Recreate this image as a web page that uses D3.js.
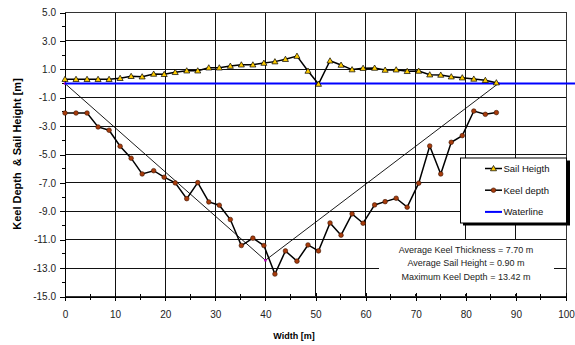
<!DOCTYPE html>
<html>
<head>
<meta charset="utf-8">
<script src="https://cdn.jsdelivr.net/npm/d3@7"></script>
<style>
body { margin: 0; background: #fff; }
svg { display: block; font-family: "Liberation Sans", Arial, sans-serif; }
.axis path, .axis line { stroke: #000; shape-rendering: crispEdges; }
.axis text { fill: #222; font-size: 10px; }
</style>
</head>
<body>
<svg width="575" height="345"></svg>
<script>
// distance across the ridge [m]
var widths = [0, 2.2, 4.4, 6.6, 8.8, 11.0, 13.2, 15.4, 17.7, 19.8,
  22.0, 24.3, 26.5, 28.7, 30.8, 33.0, 35.2, 37.5, 39.7, 41.9,
  44.0, 46.3, 48.5, 50.6, 52.9, 55.1, 57.3, 59.5, 61.8, 63.9,
  66.1, 68.3, 70.6, 72.8, 75.0, 77.1, 79.3, 81.6, 83.9, 86.1];

var sailHeight = [0.30, 0.30, 0.30, 0.30, 0.30, 0.37, 0.51, 0.48, 0.67, 0.65,
  0.79, 0.90, 0.90, 1.11, 1.11, 1.23, 1.32, 1.32, 1.44, 1.54,
  1.71, 1.93, 0.88, -0.04, 1.60, 1.30, 0.98, 1.08, 1.09, 0.95,
  0.97, 0.86, 0.88, 0.62, 0.60, 0.48, 0.41, 0.32, 0.23, 0.06];

var keelDepth = [-2.08, -2.08, -2.08, -3.06, -3.29, -4.42, -5.26, -6.37, -6.14, -6.60,
  -7.00, -8.11, -6.98, -8.34, -8.57, -9.58, -11.41, -10.89, -11.41, -13.42,
  -11.79, -12.51, -11.37, -11.79, -9.82, -10.68, -9.18, -9.84, -8.55, -8.32,
  -8.08, -8.71, -7.02, -4.40, -6.37, -4.14, -3.67, -1.94, -2.17, -2.05];

// waterline and the idealised keel triangle
var waterX = [0, 102], waterY = [0, 0];
var triX = [0, 40, 86.5], triY = [0, -12.45, 0];

var yTicks = [5, 3, 1, -1, -3, -5, -7, -9, -11, -13, -15];
var xTicks = [0, 10, 20, 30, 40, 50, 60, 70, 80, 90, 100];
var legendNames = ["Sail Heigth", "Keel depth", "Waterline"];
var notes = ["Average Keel Thickness = 7.70 m",
  "Average Sail Height = 0.90 m",
  "Maximum Keel Depth  = 13.42 m"];

var svg = d3.select("svg");
var plot = {left: 65, right: 566, top: 12.5, bottom: 296.5};

var x = d3.scaleLinear().domain([0, 100]).range([plot.left, plot.right]);
var y = d3.scaleLinear().domain([-15, 5]).range([plot.bottom, plot.top]);

var pts = function(xs, ys) { return xs.map(function(d, i) { return [d, ys[i]]; }); };
var line = d3.line().x(function(d) { return x(d[0]); }).y(function(d) { return y(d[1]); });

// grid
var grid = svg.append("g").attr("shape-rendering", "crispEdges");
grid.selectAll(".hg").data(yTicks.slice(1, -1)).enter().append("line")
  .attr("x1", plot.left).attr("x2", plot.right)
  .attr("y1", function(d) { return y(d); }).attr("y2", function(d) { return y(d); })
  .attr("stroke", "#111");
grid.selectAll(".vg").data(xTicks.slice(1, -1)).enter().append("line")
  .attr("y1", plot.top).attr("y2", plot.bottom)
  .attr("x1", function(d) { return x(d); }).attr("x2", function(d) { return x(d); })
  .attr("stroke", "#111");
grid.append("rect")
  .attr("x", plot.left).attr("y", plot.top)
  .attr("width", plot.right - plot.left).attr("height", plot.bottom - plot.top)
  .attr("fill", "none").attr("stroke", "#333");

// notes box hides the grid behind it
svg.append("rect").attr("x", 379).attr("y", 240).attr("width", 175).attr("height", 54).attr("fill", "#fff");

// minor ticks
var minorX = d3.range(5, 100, 10);
svg.append("g").attr("shape-rendering", "crispEdges").selectAll("line").data(minorX).enter().append("line")
  .attr("x1", function(d) { return x(d); }).attr("x2", function(d) { return x(d); })
  .attr("y1", plot.bottom - 3).attr("y2", plot.bottom + 3).attr("stroke", "#000");
var minorY = d3.range(4, -15, -2);
svg.append("g").attr("shape-rendering", "crispEdges").selectAll("line").data(minorY).enter().append("line")
  .attr("x1", plot.left - 3).attr("x2", plot.left)
  .attr("y1", function(d) { return y(d); }).attr("y2", function(d) { return y(d); }).attr("stroke", "#000");

// axes
svg.append("g").attr("class", "axis")
  .attr("transform", "translate(0," + plot.bottom + ")")
  .call(d3.axisBottom(x).tickValues(xTicks).tickSizeInner(4).tickSizeOuter(0).tickPadding(10)
    .tickFormat(function(d) { return d; }))
  .call(function(g) { g.selectAll(".tick line").attr("y1", -4); });
svg.append("g").attr("class", "axis")
  .attr("transform", "translate(" + plot.left + ",0)")
  .call(d3.axisLeft(y).tickValues(yTicks).tickSizeInner(5).tickSizeOuter(0).tickPadding(4)
    .tickFormat(function(d) { return d.toFixed(1); }));

// keel triangle
svg.append("path").attr("d", line(pts(triX, triY)))
  .attr("fill", "none").attr("stroke", "#000").attr("stroke-width", 0.9);
svg.selectAll(".tv").data(pts(triX, triY)).enter().append("rect")
  .attr("x", function(d) { return x(d[0]) - 1.2; }).attr("y", function(d) { return y(d[1]) - 1.2; })
  .attr("width", 2.4).attr("height", 2.4).attr("fill", "#b000b0");

// keel depth
svg.append("path").attr("d", line(pts(widths, keelDepth)))
  .attr("fill", "none").attr("stroke", "#000").attr("stroke-width", 1.5);
svg.selectAll(".keel").data(pts(widths, keelDepth)).enter().append("circle")
  .attr("cx", function(d) { return x(d[0]); }).attr("cy", function(d) { return y(d[1]); })
  .attr("r", 2.3).attr("fill", "#a83c0c").attr("stroke", "#3a1200").attr("stroke-width", 0.6);

// waterline
svg.append("path").attr("d", line(pts(waterX, waterY)))
  .attr("fill", "none").attr("stroke", "#0000ff").attr("stroke-width", 2);

// sail height
var tri = d3.symbol().type(d3.symbolTriangle).size(16);
svg.append("path").attr("d", line(pts(widths, sailHeight)))
  .attr("fill", "none").attr("stroke", "#000").attr("stroke-width", 1.5);
svg.selectAll(".sail").data(pts(widths, sailHeight)).enter().append("path")
  .attr("d", tri)
  .attr("transform", function(d) { return "translate(" + x(d[0]) + "," + (y(d[1]) + 0.5) + ")"; })
  .attr("fill", "#ffcc00").attr("stroke", "#000").attr("stroke-width", 0.7);

// notes
svg.append("g").selectAll("text").data(notes).enter().append("text")
  .attr("x", 466).attr("y", function(d, i) { return 252.5 + i * 13.7; })
  .attr("text-anchor", "middle").attr("font-size", 9).attr("fill", "#222")
  .text(function(d) { return d; });

// legend
var lg = svg.append("g").attr("transform", "translate(460,157.5)");
lg.append("rect").attr("x", 3).attr("y", 3).attr("width", 107).attr("height", 65).attr("fill", "#000");
lg.append("rect").attr("x", 0.5).attr("y", 0.5).attr("width", 106).attr("height", 65)
  .attr("fill", "#fff").attr("stroke", "#000");
var rows = lg.selectAll(".row").data(legendNames).enter().append("g")
  .attr("transform", function(d, i) { return "translate(0," + (11 + i * 21.7) + ")"; });
rows.append("line").attr("x1", 25).attr("x2", 42)
  .attr("stroke", function(d, i) { return i === 2 ? "#0000ff" : "#000"; })
  .attr("stroke-width", function(d, i) { return i === 2 ? 2 : 1.5; });
rows.filter(function(d, i) { return i === 0; }).append("path").attr("d", tri)
  .attr("transform", "translate(33.5,0.5)").attr("fill", "#ffcc00").attr("stroke", "#000").attr("stroke-width", 0.7);
rows.filter(function(d, i) { return i === 1; }).append("circle").attr("cx", 33.5).attr("r", 2.3)
  .attr("fill", "#a83c0c").attr("stroke", "#3a1200").attr("stroke-width", 0.6);
rows.append("text").attr("x", 43.5).attr("y", 3.3).attr("font-size", 9.5).attr("fill", "#111")
  .text(function(d) { return d; });

// axis titles
svg.append("text").attr("x", 294).attr("y", 339).attr("text-anchor", "middle")
  .attr("font-size", 9).attr("font-weight", "bold").text("Width [m]");
svg.append("text").attr("transform", "translate(21,154) rotate(-90)").attr("text-anchor", "middle")
  .attr("font-size", 11).attr("font-weight", "bold").attr("xml:space", "preserve")
  .text("Keel Depth  & Sail Height [m]");
</script>
</body>
</html>
